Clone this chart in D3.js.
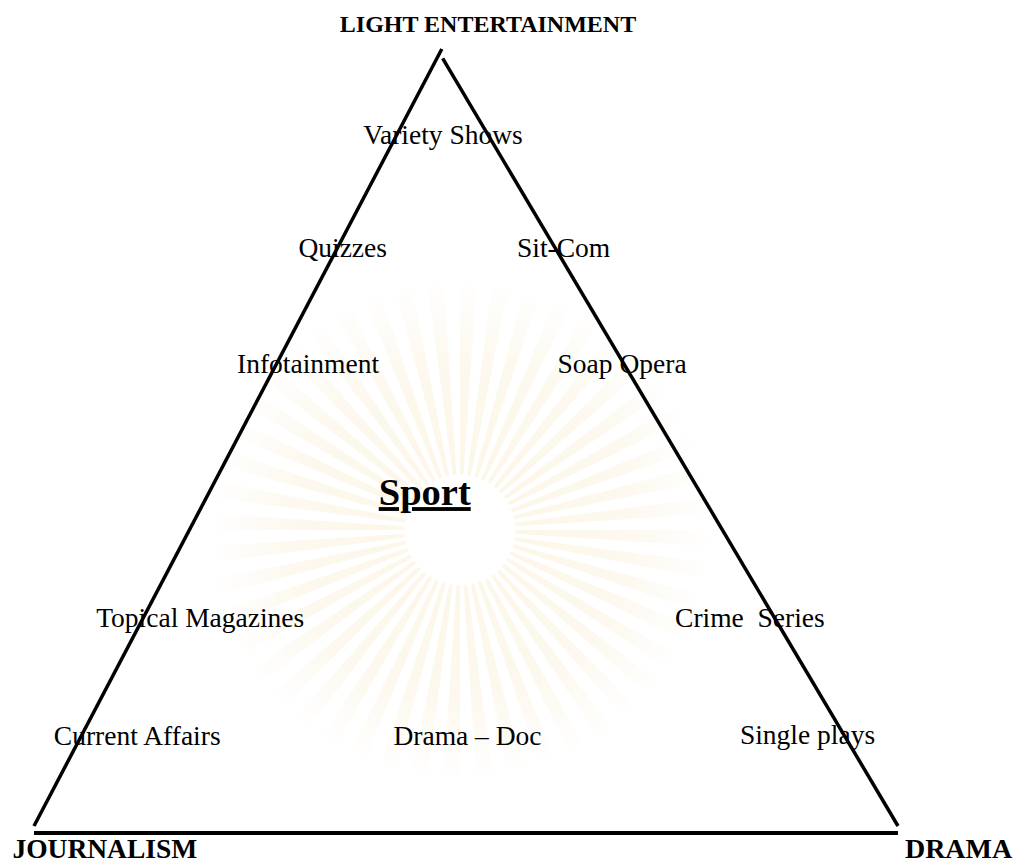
<!DOCTYPE html>
<html lang="en">
<head>
    <meta charset="UTF-8">
    <title>Television genres triangle</title>
    <script src="https://d3js.org/d3.v7.min.js"></script>
    <style type="text/css">
        body { margin: 0; background: white; }
        svg text { font-family: "Liberation Serif", "Times New Roman", serif; fill: black; white-space: pre; }
        .corner { font-weight: bold; font-size: 27.5px; }
        .genre { font-size: 27.5px; }
        .sport { font-weight: bold; font-size: 38.5px; text-decoration: underline; }
    </style>
</head>
<body>
<script type="text/javascript">

    // genre labels, placed in the triangle's own units (0-100 across, 0-100 up)
    const genres = ["Variety Shows", "Quizzes", "Sit-Com", "Infotainment", "Soap Opera",
                    "Topical Magazines", "Crime  Series", "Current Affairs", "Drama \u2013 Doc", "Single plays"];
    const genreX = [38.1, 30.6, 55.9, 23.5, 60.6, 7.2, 74.2, 2.3, 41.6, 81.7];
    const genreY = [87.8, 73.2, 73.2, 58.3, 58.3, 25.6, 25.6, 10.4, 10.4, 10.6];

    const highlight = "Sport";
    const highlightX = 39.9, highlightY = 41.3;

    // the three poles
    const corners = ["LIGHT ENTERTAINMENT", "JOURNALISM", "DRAMA"];
    const cornerX = [35.4, -2.5, 100.8];
    const cornerY = [102.2, -4.1, -4.1];
    const cornerSize = [24, 27.5, 28];

    // the three hand drawn edges (they do not quite meet)
    const edges = [
        [[0, 0], [47.2, 100]],
        [[47.3, 98.8], [100, 0]],
        [[0, -0.9], [100, -0.9]]
    ];

    const width = 1018, height = 863;
    const svg = d3.select("body").append("svg")
        .attr("width", width)
        .attr("height", height);

    const x = d3.scaleLinear().domain([0, 100]).range([34, 898]);
    const y = d3.scaleLinear().domain([0, 100]).range([826, 49]);

    // faint watermark behind the chart
    const glow = svg.append("defs").append("radialGradient")
        .attr("id", "glow")
        .attr("gradientUnits", "userSpaceOnUse")
        .attr("cx", 0).attr("cy", 0).attr("r", 250);
    glow.append("stop").attr("offset", "0.2").attr("stop-color", "#fbf2d8");
    glow.append("stop").attr("offset", "0.7").attr("stop-color", "#fcf6e6");
    glow.append("stop").attr("offset", "1").attr("stop-color", "#ffffff");

    const mark = svg.append("g")
        .attr("transform", "translate(460,530)")
        .attr("opacity", 0.6);
    const rays = d3.range(48);
    const ray = d3.arc().innerRadius(55).outerRadius(250).cornerRadius(6);
    mark.selectAll("path")
        .data(rays)
        .enter().append("path")
        .attr("d", i => ray({ startAngle: i / 48 * 2 * Math.PI, endAngle: (i + 0.5) / 48 * 2 * Math.PI }))
        .attr("fill", "url(#glow)");

    svg.selectAll("line.edge")
        .data(edges)
        .enter().append("line")
        .attr("class", "edge")
        .attr("x1", d => x(d[0][0]))
        .attr("y1", d => y(d[0][1]))
        .attr("x2", d => x(d[1][0]))
        .attr("y2", d => y(d[1][1]))
        .attr("stroke", "black")
        .attr("stroke-width", (d, i) => i === 2 ? 4 : 3.5);

    svg.selectAll("text.genre")
        .data(genres)
        .enter().append("text")
        .attr("class", "genre")
        .attr("x", (d, i) => x(genreX[i]))
        .attr("y", (d, i) => y(genreY[i]))
        .text(d => d);

    svg.append("text")
        .attr("class", "sport")
        .attr("x", x(highlightX))
        .attr("y", y(highlightY))
        .text(highlight);

    svg.selectAll("text.corner")
        .data(corners)
        .enter().append("text")
        .attr("class", "corner")
        .attr("x", (d, i) => x(cornerX[i]))
        .attr("y", (d, i) => y(cornerY[i]))
        .style("font-size", (d, i) => cornerSize[i] + "px")
        .text(d => d);

</script>
</body>
</html>
